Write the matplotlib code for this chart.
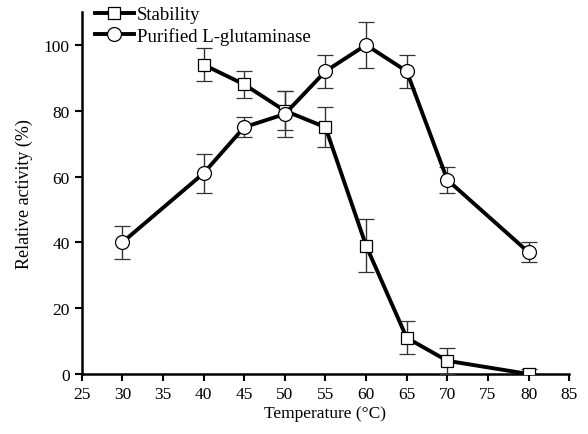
import matplotlib
matplotlib.use("Agg")
import matplotlib.pyplot as plt

plt.rcParams['font.family'] = ['Liberation Serif', 'DejaVu Serif']

temp_stab = [40, 45, 50, 55, 60, 65, 70, 80]
stab = [94, 88, 80, 75, 39, 11, 4, 0]
stab_err = [5, 4, 6, 6, 8, 5, 4, 1.5]

temp_pur = [30, 40, 45, 50, 55, 60, 65, 70, 80]
pur = [40, 61, 75, 79, 92, 100, 92, 59, 37]
pur_err = [5, 6, 3, 7, 5, 7, 5, 4, 3]

fig = plt.figure(figsize=(5.88, 4.35), dpi=100)
ax = fig.add_axes([0.139, 0.138, 0.829, 0.832])

ax.errorbar(temp_stab, stab, yerr=stab_err, color='black', lw=2.8, marker='s',
            ms=9, mfc='white', mec='black', mew=0.9, ecolor='#333333',
            elinewidth=1.0, capsize=6, capthick=1.0, label='Stability', zorder=3)
ax.errorbar(temp_pur, pur, yerr=pur_err, color='black', lw=2.8, marker='o',
            ms=10, mfc='white', mec='black', mew=0.9, ecolor='#333333',
            elinewidth=1.0, capsize=6, capthick=1.0,
            label='Purified L-glutaminase', zorder=3)

ax.set_xlim(25, 85)
ax.set_ylim(0, 110)
ax.set_xticks(range(25, 86, 5))
ax.set_yticks(range(0, 101, 20))
ax.spines['top'].set_visible(False)
ax.spines['right'].set_visible(False)
ax.spines['left'].set_linewidth(1.8)
ax.spines['bottom'].set_linewidth(1.8)
ax.tick_params(direction='out', length=5, width=1.5, labelsize=12.5)
ax.set_xlabel('Temperature (°C)', fontsize=12.5, labelpad=2)
ax.set_ylabel('Relative activity (%)', fontsize=13, labelpad=8)

handles, labels = ax.get_legend_handles_labels()
handles = [h[0] for h in handles]
ax.legend(handles, labels, loc='upper left', bbox_to_anchor=(0.158, 0.988),
          bbox_transform=fig.transFigure, frameon=False, fontsize=13.5,
          handlelength=2.1, handletextpad=0.15, labelspacing=0.2,
          borderaxespad=0, borderpad=0.1)

fig.savefig('out.png', dpi=100)
